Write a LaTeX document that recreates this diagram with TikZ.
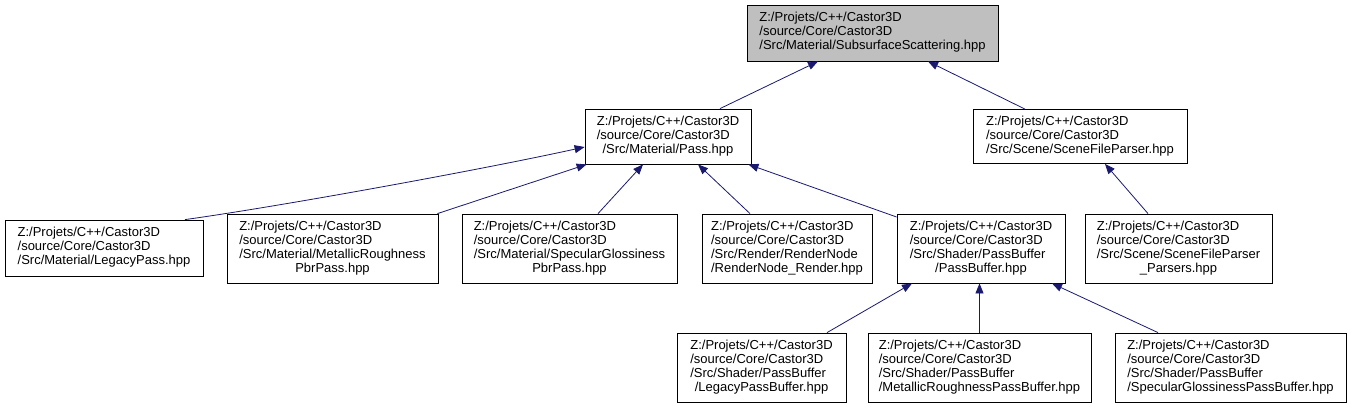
\documentclass[tikz,border=0pt]{standalone}
\usepackage{fontspec}
\setmainfont{Liberation Sans}
\usetikzlibrary{arrows.meta}
\definecolor{edgeblue}{HTML}{191970}
\definecolor{topgray}{HTML}{BFBFBF}
\newcommand{\flines}[3]{\begin{tabular}{@{}l@{}}#1\\#2\\\multicolumn{1}{@{}c@{}}{#3}\end{tabular}}
\newcommand{\flinesf}[4]{\begin{tabular}{@{}l@{}}#1\\#2\\#3\\\multicolumn{1}{@{}c@{}}{#4}\end{tabular}}
\begin{document}
\begin{tikzpicture}[x=1pt,y=-1pt,
  filebox/.style={draw=black,line width=0.8pt,fill=white,inner sep=0pt,
    font=\fontsize{13}{14}\selectfont,minimum height=#1},
  filebox/.default=69pt,
  edge/.style={draw=edgeblue,line width=0.8pt,-{Triangle[length=10pt,width=8pt]}}]
\useasboundingbox (0,0) rectangle (1351,408);
\renewcommand{\arraystretch}{1}
\node[filebox=56pt,fill=topgray,minimum width=251pt] (top) at (872.5,33)
  {\flines{Z:/Projets/C++/Castor3D}{/source/Core/Castor3D}{/Src/Material/SubsurfaceScattering.hpp}};
\node[filebox=55pt,minimum width=166pt] (pass) at (668,136.5)
  {\flines{Z:/Projets/C++/Castor3D}{/source/Core/Castor3D}{/Src/Material/Pass.hpp}};
\node[filebox=54pt,minimum width=214pt] (sfp) at (1080,136.5)
  {\flines{Z:/Projets/C++/Castor3D}{/source/Core/Castor3D}{/Src/Scene/SceneFileParser.hpp}};
\node[filebox=56pt,minimum width=198pt] (legacy) at (104,248)
  {\flines{Z:/Projets/C++/Castor3D}{/source/Core/Castor3D}{/Src/Material/LegacyPass.hpp}};
\node[filebox,minimum width=211pt] (metal) at (332.5,248.5)
  {\flinesf{Z:/Projets/C++/Castor3D}{/source/Core/Castor3D}{/Src/Material/MetallicRoughness}{PbrPass.hpp}};
\node[filebox,minimum width=215pt] (spec) at (569.5,248.5)
  {\flinesf{Z:/Projets/C++/Castor3D}{/source/Core/Castor3D}{/Src/Material/SpecularGlossiness}{PbrPass.hpp}};
\node[filebox,minimum width=170pt] (render) at (787,248.5)
  {\flinesf{Z:/Projets/C++/Castor3D}{/source/Core/Castor3D}{/Src/Render/RenderNode}{/RenderNode\_Render.hpp}};
\node[filebox,minimum width=168pt] (passbuf) at (981,248.5)
  {\flinesf{Z:/Projets/C++/Castor3D}{/source/Core/Castor3D}{/Src/Shader/PassBuffer}{/PassBuffer.hpp}};
\node[filebox,minimum width=187pt] (parsers) at (1178.5,248.5)
  {\flinesf{Z:/Projets/C++/Castor3D}{/source/Core/Castor3D}{/Src/Scene/SceneFileParser}{\_Parsers.hpp}};
\node[filebox,minimum width=169pt] (lpb) at (761.5,367.5)
  {\flinesf{Z:/Projets/C++/Castor3D}{/source/Core/Castor3D}{/Src/Shader/PassBuffer}{/LegacyPassBuffer.hpp}};
\node[filebox,minimum width=223pt] (mrpb) at (979.5,367.5)
  {\flinesf{Z:/Projets/C++/Castor3D}{/source/Core/Castor3D}{/Src/Shader/PassBuffer}{/MetallicRoughnessPassBuffer.hpp}};
\node[filebox,minimum width=231pt] (sgpb) at (1230.5,367.5)
  {\flinesf{Z:/Projets/C++/Castor3D}{/source/Core/Castor3D}{/Src/Shader/PassBuffer}{/SpecularGlossinessPassBuffer.hpp}};
% edges (arrowhead at the included file)
\draw[edge] ([xshift=52pt]pass.north) -- ([xshift=-54.5pt]top.south);
\draw[edge] ([xshift=-55pt]sfp.north) -- ([xshift=55.5pt]top.south);
\draw[edge] ([xshift=81pt]legacy.north) .. controls +(100,-14) and +(-100,22) .. ([yshift=-10.5pt]pass.west);
\draw[edge] ([xshift=-1pt]metal.north east) -- ([xshift=2pt]pass.south west);
\draw[edge] ([xshift=28.5pt]spec.north) -- ([xshift=-25pt]pass.south);
\draw[edge] ([xshift=-37pt]render.north) -- ([xshift=30pt]pass.south);
\draw[edge] ([yshift=31.5pt]passbuf.west) -- ([xshift=-3pt]pass.south east);
\draw[edge] ([xshift=-30.5pt]parsers.north) -- ([xshift=25pt]sfp.south);
\draw[edge] ([xshift=65.5pt]lpb.north) -- ([xshift=-69pt]passbuf.south);
\draw[edge] (mrpb.north) -- (mrpb.north |- passbuf.south);
\draw[edge] ([xshift=-72.5pt]sgpb.north) -- ([xshift=71pt]passbuf.south);
\end{tikzpicture}
\end{document}
